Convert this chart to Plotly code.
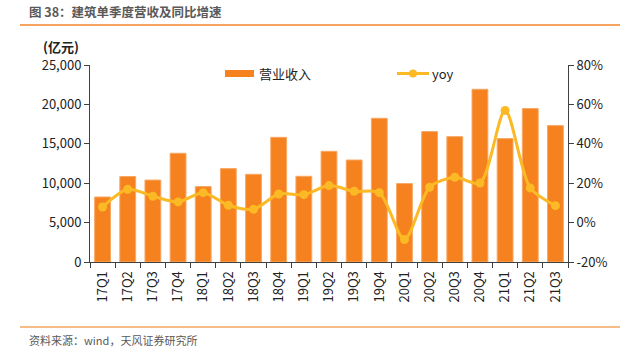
import plotly.graph_objects as go

quarters = ["17Q1","17Q2","17Q3","17Q4","18Q1","18Q2","18Q3","18Q4","19Q1","19Q2",
            "19Q3","19Q4","20Q1","20Q2","20Q3","20Q4","21Q1","21Q2","21Q3"]
revenue = [8250,10850,10400,13800,9570,11850,11130,15820,10880,14050,
           12940,18240,9950,16550,15910,21920,15660,19470,17310]
yoy = [7.9,16.9,13.4,10.5,15.2,8.8,6.8,14.5,14.2,18.8,
       15.9,15.2,-8.6,17.9,23.0,20.1,56.9,17.6,8.6]
left_ticks = [0,5000,10000,15000,20000,25000]
left_ticktext = ["0","5,000","10,000","15,000","20,000","25,000"]
right_ticks = [-20,0,20,40,60,80]
right_ticktext = ["-20%","0%","20%","40%","60%","80%"]

FONT = "Noto Sans CJK SC, Open Sans, sans-serif"
AX = "#404040"
W, H = 635, 362
L, R, T, B = 90, 67, 65, 100
PW, PH = W - L - R, H - T - B

def px(x):
    return (x - L) / PW

def py(y):
    return (H - B - y) / PH

fig = go.Figure()
fig.add_trace(go.Bar(x=quarters, y=revenue, name="营业收入", width=0.63,
                     marker=dict(color="#F5821F", line=dict(color="#F8A865", width=1)),
                     yaxis="y"))
fig.add_trace(go.Scatter(x=quarters, y=yoy, name="yoy", mode="lines+markers",
                         line=dict(color="#FBBA25", width=3, shape="spline", smoothing=0.8),
                         marker=dict(size=9, color="#FBBA25"), yaxis="y2"))

fig.update_layout(
    width=W, height=H,
    margin=dict(l=L, r=R, t=T, b=B, autoexpand=False),
    paper_bgcolor="white", plot_bgcolor="white",
    font=dict(family=FONT, size=13, color="#222"),
    showlegend=False,
    xaxis=dict(type="category", range=[-0.5, len(quarters) - 0.5],
               showline=True, linecolor=AX, linewidth=1,
               ticks="outside", tickson="boundaries", ticklen=5, tickcolor=AX,
               tickangle=-90, tickfont=dict(size=13, color="#222"), showgrid=False,
               ticklabelstandoff=3, automargin=False),
    yaxis=dict(range=[0,25000], tickvals=left_ticks, ticktext=left_ticktext,
               showline=True, linecolor=AX, linewidth=1, ticks="outside",
               ticklen=5, tickcolor=AX, showgrid=False, zeroline=False,
               tickfont=dict(size=13, color="#222"), automargin=False),
    yaxis2=dict(range=[-20,80], tickvals=right_ticks, ticktext=right_ticktext,
                overlaying="y", side="right", showline=True, linecolor=AX, linewidth=1,
                ticks="outside", ticklen=5, tickcolor=AX, showgrid=False, zeroline=False,
                tickfont=dict(size=13, color="#222"), automargin=False),
)

# title and rules
fig.add_annotation(xref="paper", yref="paper", x=px(27), y=py(12), xanchor="left", yanchor="middle",
                   text="<b>图 38：建筑单季度营收及同比增速</b>", showarrow=False,
                   font=dict(size=12.5, color="#595959", family=FONT))
fig.add_shape(type="line", xref="paper", yref="paper", x0=px(20), x1=px(620), y0=py(25), y1=py(25),
              line=dict(color="#F4A460", width=2))
fig.add_annotation(xref="paper", yref="paper", x=px(61), y=py(47), xanchor="center", yanchor="middle",
                   text="<b>(亿元)</b>", showarrow=False, font=dict(size=13, color="#222", family=FONT))
fig.add_shape(type="line", xref="paper", yref="paper", x0=px(20), x1=px(620), y0=py(327), y1=py(327),
              line=dict(color="#F4A460", width=1.5))
fig.add_annotation(xref="paper", yref="paper", x=px(27), y=py(340), xanchor="left", yanchor="middle",
                   text="资料来源：wind，天风证券研究所", showarrow=False,
                   font=dict(size=11, color="#595959", family=FONT))

# legend drawn manually
fig.add_shape(type="rect", xref="paper", yref="paper", x0=px(225), x1=px(254), y0=py(77), y1=py(70),
              fillcolor="#F5821F", line=dict(width=0))
fig.add_annotation(xref="paper", yref="paper", x=px(257), y=py(73.5), xanchor="left", yanchor="middle",
                   text="营业收入", showarrow=False, font=dict(size=13, color="#222", family=FONT))
fig.add_shape(type="line", xref="paper", yref="paper", x0=px(397), x1=px(429), y0=py(73.5), y1=py(73.5),
              line=dict(color="#FBBA25", width=3))
fig.add_shape(type="circle", xref="paper", yref="paper", x0=px(409), x1=px(417), y0=py(77.5), y1=py(69.5),
              fillcolor="#FBBA25", line=dict(width=0))
fig.add_annotation(xref="paper", yref="paper", x=px(430), y=py(73.5), xanchor="left", yanchor="middle",
                   text="yoy", showarrow=False, font=dict(size=13, color="#222", family=FONT))

fig.write_html("out.html", config={"displayModeBar": False},
               post_script="document.body.style.margin='0';")
